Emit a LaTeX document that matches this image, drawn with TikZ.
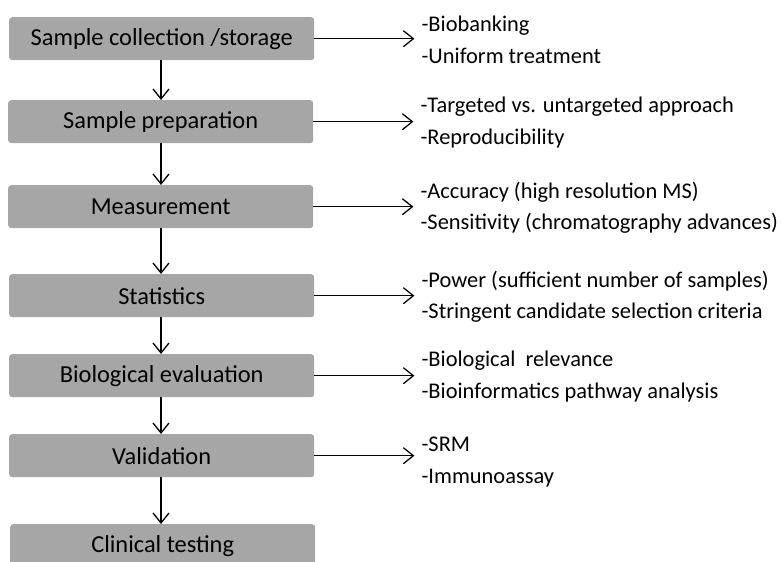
\documentclass[tikz,border=0pt]{standalone}
\usepackage{fontspec}
\setmainfont{Carlito}
\usetikzlibrary{arrows.meta}
\definecolor{boxgray}{HTML}{A6A6A6}
\begin{document}
\begin{tikzpicture}[x=1bp,y=-1bp,
  stage/.style={fill=boxgray, rounded corners=3bp, minimum width=305bp,
    minimum height=43bp, inner sep=0pt, anchor=north west,
    font=\fontsize{24.5}{28}\selectfont},
  note/.style={anchor=west, align=left, inner sep=0pt,
    font=\fontsize{22.5}{32}\selectfont},
  flow/.style={-{Straight Barb[length=10bp,width=16bp]}, line width=1.3bp}]
  \useasboundingbox (0,0) rectangle (782,562);
  \clip (0,0) rectangle (782,562);

  % pipeline stages
  \node[stage] (s1) at (9,17)  {Sample collection /storage};
  \node[stage] (s2) at (8,100) {Sample preparation};
  \node[stage] (s3) at (8,185) {Measurement};
  \node[stage] (s4) at (9,274) {Statistics};
  \node[stage] (s5) at (9,354) {Biological evaluation};
  \node[stage] (s6) at (9,434) {Validation};
  \node[stage] (s7) at (10,524) {Clinical testing};

  % arrow tips of the side notes
  \foreach \i in {1,...,6} {
    \coordinate (t\i) at ([xshift=100bp]s\i.east);
    \draw[flow] (s\i.east) -- (t\i);
  }

  % notes for each stage
  \node[note] (n1) at ([xshift=7bp,yshift=-1bp]t1) {-Biobanking\\-Uniform treatment};
  \node[note] (n2) at ([xshift=7bp,yshift=-1bp]t2) {-Targeted vs. untargeted approach\\-Reproducibility};
  \node[note] (n3) at ([xshift=7bp,yshift=-1bp]t3) {-Accuracy (high resolution MS)\\-Sensitivity (chromatography advances)};
  \node[note] (n4) at ([xshift=7bp,yshift=-1bp]t4) {-Power (sufficient number of samples)\\-Stringent candidate selection criteria};
  \node[note] (n5) at ([xshift=7bp,yshift=-1bp]t5) {-Biological\ \ relevance\\-Bioinformatics pathway analysis};
  \node[note] (n6) at ([xshift=7bp,yshift=-6bp]t6) {-SRM\\-Immunoassay};

  % flow between stages
  \foreach \i/\j in {1/2,2/3,3/4,4/5,5/6,6/7}
    \draw[flow] (s\i.south -| 161,0) -- (s\j.north -| 161,0);
\end{tikzpicture}
\end{document}
